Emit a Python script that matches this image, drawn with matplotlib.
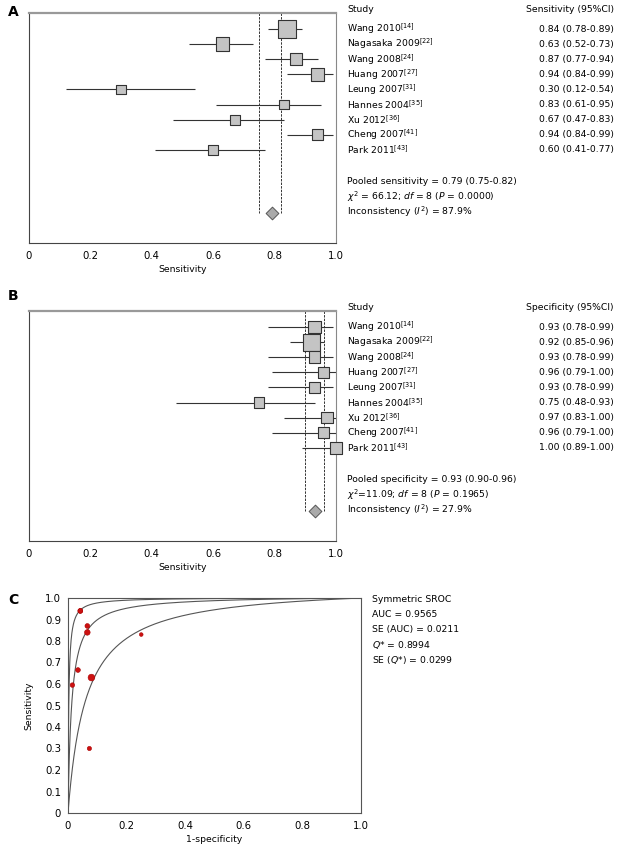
import numpy as np
import matplotlib.pyplot as plt
from matplotlib.transforms import blended_transform_factory

plt.rcParams['font.family'] = ['DejaVu Sans']
plt.rcParams['mathtext.fontset'] = 'dejavusans'

studies = [r'Wang 2010$^{[14]}$', r'Nagasaka 2009$^{[22]}$', r'Wang 2008$^{[24]}$',
           r'Huang 2007$^{[27]}$', r'Leung 2007$^{[31]}$', r'Hannes 2004$^{[35]}$',
           r'Xu 2012$^{[36]}$', r'Cheng 2007$^{[41]}$', r'Park 2011$^{[43]}$']

sens = [0.84, 0.63, 0.87, 0.94, 0.30, 0.83, 0.67, 0.94, 0.60]
sens_lo = [0.78, 0.52, 0.77, 0.84, 0.12, 0.61, 0.47, 0.84, 0.41]
sens_hi = [0.89, 0.73, 0.94, 0.99, 0.54, 0.95, 0.83, 0.99, 0.77]
sens_weight = [24.4, 13.8, 11.2, 12.5, 6.7, 7.3, 7.8, 8.6, 7.8]

spec = [0.93, 0.92, 0.93, 0.96, 0.93, 0.75, 0.97, 0.96, 1.00]
spec_lo = [0.78, 0.85, 0.78, 0.79, 0.78, 0.48, 0.83, 0.79, 0.89]
spec_hi = [0.99, 0.96, 0.99, 1.00, 0.99, 0.93, 1.00, 1.00, 1.00]
spec_weight = [11.5, 22.0, 10.1, 9.2, 8.5, 8.5, 10.1, 9.2, 11.0]

pooled_sens = (0.79, 0.75, 0.82)
pooled_spec = (0.93, 0.90, 0.96)

stats_sens = ['Pooled sensitivity = 0.79 (0.75-0.82)',
              r'$\chi^2$ = 66.12; $df$ = 8 ($P$ = 0.0000)',
              r'Inconsistency ($I^2$) = 87.9%']
stats_spec = ['Pooled specificity = 0.93 (0.90-0.96)',
              r'$\chi^2$=11.09; $df$ = 8 ($P$ = 0.1965)',
              r'Inconsistency ($I^2$) = 27.9%']

# SROC panel: points (1-specificity, sensitivity)
roc_fpr = [0.066, 0.080, 0.066, 0.042, 0.073, 0.250, 0.034, 0.042, 0.015]
roc_tpr = [0.84, 0.63, 0.87, 0.94, 0.30, 0.83, 0.665, 0.94, 0.595]
roc_weight = [14, 20, 10, 10, 8, 6, 10, 10, 9]
q_star = 0.8994
lndor_ci = (2.85, 5.95)
sroc_text = ['Symmetric SROC', 'AUC = 0.9565', 'SE (AUC) = 0.0211',
             r'$Q$* = 0.8994', r'SE ($Q$*) = 0.0299']

ticks = [0, 0.2, 0.4, 0.6, 0.8, 1.0]
tick_labels = ['0', '0.2', '0.4', '0.6', '0.8', '1.0']

W, H = 633, 851
FS = 6.7
fig = plt.figure(figsize=(W / 100, H / 100), dpi=100)


def px_axes(left, top, right, bottom):
    return fig.add_axes([left / W, 1 - bottom / H, (right - left) / W, (bottom - top) / H])


def forest(ax, est, lo, hi, weight, pooled, header, stats):
    n = len(est)
    rows = np.arange(n)
    ax.hlines(rows, lo, hi, color='#333333', lw=0.8, zorder=2, clip_on=False)
    side = 3.6 * np.sqrt(weight) * 0.72
    ax.scatter(est, rows, marker='s', s=side ** 2, facecolor='#c4c4c4',
               edgecolor='#333333', linewidth=0.8, zorder=3, clip_on=False)
    drow = n + 3.2
    ax.vlines([pooled[1], pooled[2]], -1.06, drow, color='#333333', lw=0.7,
              linestyle=(0, (2.5, 1.2)), zorder=1)
    ax.scatter([pooled[0]], [drow], marker='D', s=(9 * 0.72) ** 2,
               facecolor='#aaaaaa', edgecolor='#555555', linewidth=0.7, zorder=3)
    ax.set_xlim(0, 1)
    ax.set_ylim(n + 5.17, -1.06)
    ax.set_yticks([])
    ax.set_xticks(ticks)
    ax.set_xticklabels(tick_labels)
    ax.tick_params(axis='x', length=0, pad=6, labelsize=7.3)
    ax.set_xlabel('Sensitivity', fontsize=FS, labelpad=3)
    for s in ['left', 'bottom']:
        ax.spines[s].set_color('#444444')
    ax.spines['right'].set_color('#888888')
    ax.spines['top'].set_color('#999999')
    ax.spines['top'].set_linewidth(1.6)

    tr = blended_transform_factory(ax.transAxes, ax.transData)
    ax.text(1.036, -1.3, 'Study', transform=tr, fontsize=FS, va='center', ha='left')
    ax.text(1.905, -1.3, header, transform=tr, fontsize=FS, va='center', ha='right')
    for i in range(n):
        ax.text(1.036, rows[i], studies[i], transform=tr, fontsize=FS, va='center', ha='left')
        ax.text(1.905, rows[i], f'{est[i]:.2f} ({lo[i]:.2f}-{hi[i]:.2f})',
                transform=tr, fontsize=FS, va='center', ha='right')
    for j, line in enumerate(stats):
        ax.text(1.036, n + 1.1 + j, line, transform=tr, fontsize=FS, va='center', ha='left')


axA = px_axes(29, 13, 336, 243)
forest(axA, sens, sens_lo, sens_hi, sens_weight, pooled_sens, 'Sensitivity (95%CI)', stats_sens)

axB = px_axes(29, 311, 336, 541)
forest(axB, spec, spec_lo, spec_hi, spec_weight, pooled_spec, 'Specificity (95%CI)', stats_spec)

# SROC
axC = px_axes(68, 598, 361, 813)
fpr = np.linspace(0.0001, 0.9999, 2000)
lndor = 2 * np.log(q_star / (1 - q_star))
for d in [lndor, lndor_ci[0], lndor_ci[1]]:
    tpr = 1 / (1 + np.exp(-(d + np.log(fpr / (1 - fpr)))))
    axC.plot(np.r_[0, fpr, 1], np.r_[0, tpr, 1], color='#555555', lw=0.8, zorder=1)
dia = np.sqrt(roc_weight) * 1.5 * 0.72
axC.scatter(roc_fpr, roc_tpr, s=dia ** 2, color='#cc1111', edgecolor='#aa0000',
            linewidth=0.4, zorder=3)
axC.set_xlim(0, 1)
axC.set_ylim(0, 1)
axC.set_xticks(ticks)
axC.set_xticklabels(tick_labels)
yt = np.round(np.arange(0, 1.01, 0.1), 1)
axC.set_yticks(yt)
axC.set_yticklabels(['0'] + [f'{v:.1f}' for v in yt[1:]])
axC.tick_params(length=0, labelsize=7.3)
axC.tick_params(axis='x', pad=6)
axC.tick_params(axis='y', pad=5)
axC.set_xlabel('1-specificity', fontsize=FS, labelpad=3)
axC.set_ylabel('Sensitivity', fontsize=FS, labelpad=8)
for s in axC.spines.values():
    s.set_color('#555555')
for j, line in enumerate(sroc_text):
    axC.text(1.0375, 0.991 - 0.0698 * j, line, transform=axC.transAxes,
             fontsize=FS, va='center', ha='left')

fig.text(8 / W, 1 - 12 / H, 'A', fontsize=10, fontweight='bold', va='center')
fig.text(8 / W, 1 - 296 / H, 'B', fontsize=10, fontweight='bold', va='center')
fig.text(8 / W, 1 - 600 / H, 'C', fontsize=10, fontweight='bold', va='center')

fig.savefig('out.png', dpi=100)
